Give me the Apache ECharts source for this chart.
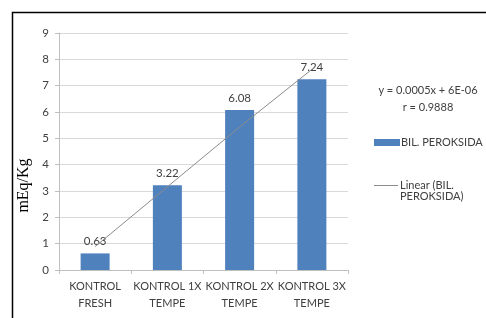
<!DOCTYPE html>
<html>
	<head>
		<meta charset="utf-8">
		<title></title>
		<script src="https://cdn.jsdelivr.net/npm/echarts@6/dist/echarts.min.js"></script>
		<style>
			html, body {
				margin: 0;
				padding: 0;
				background: #ffffff;
			}
			#main {
				width: 486px;
				height: 318px;
			}
		</style>
	</head>
	<body>
		<div id="main"></div>
	</body>
	<script>
		var categories = ["KONTROL\nFRESH", "KONTROL 1X\nTEMPE", "KONTROL 2X\nTEMPE", "KONTROL 3X\nTEMPE"];
		var peroksida = [0.63, 3.22, 6.08, 7.24];
		// trendline values at each category
		var trendValues = [0.89, 3.16, 5.43, 7.62];
		var yTicks = [0, 9, 1];
		var equationText = "y = 0.0005x + 6E-06\nr = 0.9888";

		var font = "Lato";

		var option = {
			animation: false,
			backgroundColor: "#ffffff",
			grid: {
				left: 59,
				right: 138,
				top: 33,
				bottom: 48
			},
			graphic: [{
				type: "rect",
				shape: { x: 12.5, y: 12.5, width: 520, height: 330 },
				style: { fill: null, stroke: "#000000", lineWidth: 1.5 }
			}, {
				type: "text",
				x: 428,
				y: 82,
				style: {
					text: equationText,
					font: "11px " + font,
					fill: "#404040",
					align: "center",
					lineHeight: 17
				}
			}, {
				type: "text",
				x: 400,
				y: 191,
				style: {
					text: "PEROKSIDA)",
					font: "11px " + font,
					fill: "#404040"
				}
			}],
			legend: [{
				data: [{ name: "BIL. PEROKSIDA", icon: "rect" }],
				left: 369,
				top: 132,
				itemWidth: 26,
				itemHeight: 7,
				itemGap: 4,
				textStyle: { fontFamily: font, fontSize: 11, color: "#404040", padding: [0, 0, 0, -4] }
			}, {
				data: [{ name: "Linear (BIL. PEROKSIDA)", icon: "rect" }],
				formatter: function () { return "Linear (BIL."; },
				left: 369,
				top: 175,
				itemWidth: 24,
				itemHeight: 1,
				textStyle: { fontFamily: font, fontSize: 11, color: "#404040", padding: [0, 0, 0, -3] }
			}],
			xAxis: {
				type: "category",
				data: categories,
				axisLine: { lineStyle: { color: "#bfbfbf" } },
				axisTick: { show: true, length: 4, lineStyle: { color: "#bfbfbf" } },
				axisLabel: {
					fontFamily: font,
					fontSize: 11,
					color: "#404040",
					lineHeight: 17,
					margin: 8,
					interval: 0
				}
			},
			yAxis: {
				type: "value",
				min: yTicks[0],
				max: yTicks[1],
				interval: yTicks[2],
				name: "mEq/Kg",
				nameLocation: "middle",
				nameGap: 25,
				nameTextStyle: {
					fontFamily: "Liberation Serif",
					fontSize: 16,
					color: "#000000",
					padding: [0, 0, 0, -68]
				},
				axisLine: { show: true, lineStyle: { color: "#bfbfbf" } },
				axisTick: { show: true, length: 4, lineStyle: { color: "#bfbfbf" } },
				splitLine: { lineStyle: { color: "#d9d9d9" } },
				axisLabel: {
					fontFamily: font,
					fontSize: 11.5,
					color: "#404040",
					margin: 10
				}
			},
			series: [{
				name: "BIL. PEROKSIDA",
				type: "bar",
				data: peroksida,
				barWidth: 29,
				itemStyle: { color: "#4f81bd" },
				label: {
					show: true,
					position: "top",
					distance: 6,
					fontFamily: font,
					fontSize: 11.5,
					color: "#404040"
				}
			}, {
				name: "Linear (BIL. PEROKSIDA)",
				type: "line",
				data: trendValues,
				symbol: "none",
				z: 5,
				lineStyle: { color: "#8c8c8c", width: 1 },
				itemStyle: { color: "#8c8c8c" }
			}]
		};

		var chart = echarts.init(document.getElementById("main"));
		chart.setOption(option);
	</script>
</html>
